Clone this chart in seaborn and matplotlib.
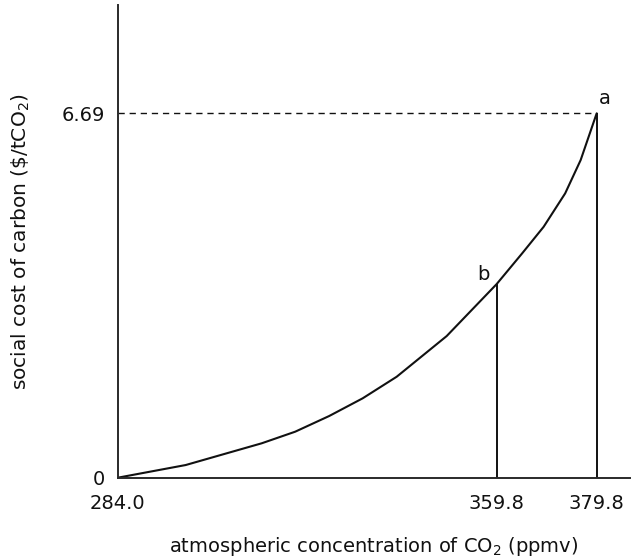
import matplotlib
matplotlib.use("Agg")
import matplotlib.pyplot as plt
import seaborn as sns
import pandas as pd

# values
co2_ppmv = [284.0, 297.6, 312.8, 319.5, 326.3, 333.0, 339.8, 349.8, 359.8,
            364.9, 369.2, 373.5, 376.6, 379.8]
scc = [0.0, 0.233, 0.632, 0.845, 1.133, 1.458, 1.854, 2.601, 3.556,
       4.120, 4.608, 5.221, 5.833, 6.69]

point_labels = ["b", "a"]
point_x = [359.8, 379.8]
point_y = [3.556, 6.69]

x_ticks = [284.0, 359.8, 379.8]
y_ticks = [0, 6.69]
y_tick_labels = ["0", "6.69"]

sns.set_theme(style="white")
plt.rcParams["font.family"] = ["DejaVu Sans"]
INK = "#111111"

df = pd.DataFrame({"co2": co2_ppmv, "scc": scc})

fig = plt.figure(figsize=(6.33, 5.59), dpi=100)
ax = fig.add_axes([0.1859, 0.1454, 0.8096, 0.8456])

sns.lineplot(data=df, x="co2", y="scc", ax=ax, color=INK, linewidth=1.5)

# drop lines at a and b
ax.vlines(point_x, 0, point_y, color=INK, linewidth=1.4)
# dashed guide to 6.69
ax.hlines(point_y[1], x_ticks[0], point_x[1], color=INK, linewidth=1.0,
          linestyles=(0, (4.5, 3.5)))

ax.annotate(point_labels[0], xy=(point_x[0], point_y[0]), xytext=(-9.5, 7),
            textcoords="offset points", ha="center", va="center",
            fontsize=14, color=INK)
ax.annotate(point_labels[1], xy=(point_x[1], point_y[1]), xytext=(6, 10.5),
            textcoords="offset points", ha="center", va="center",
            fontsize=14, color=INK)

ax.set_xlim(284.0, 386.5)
ax.set_ylim(0, 8.68)
ax.set_xticks(x_ticks)
ax.set_xticklabels([f"{v:.1f}" for v in x_ticks])
ax.set_yticks(y_ticks)
ax.set_yticklabels(y_tick_labels)
ax.tick_params(axis="both", length=0, labelsize=14, colors=INK)
ax.tick_params(axis="x", pad=12)
ax.tick_params(axis="y", pad=9)

for side in ["top", "right"]:
    ax.spines[side].set_visible(False)
for side in ["left", "bottom"]:
    ax.spines[side].set_color("#2a2a2a")
    ax.spines[side].set_linewidth(1.4)

ax.set_xlabel("atmospheric concentration of CO$_2$ (ppmv)", fontsize=14, color=INK)
ax.set_ylabel("social cost of carbon (\\$/tCO$_2$)", fontsize=14.5, color=INK)
ax.xaxis.set_label_coords(0.5, -0.122)
ax.xaxis.label.set_va("top")
ax.yaxis.set_label_coords(-0.168, 0.5)

fig.savefig("out.png", dpi=100)
